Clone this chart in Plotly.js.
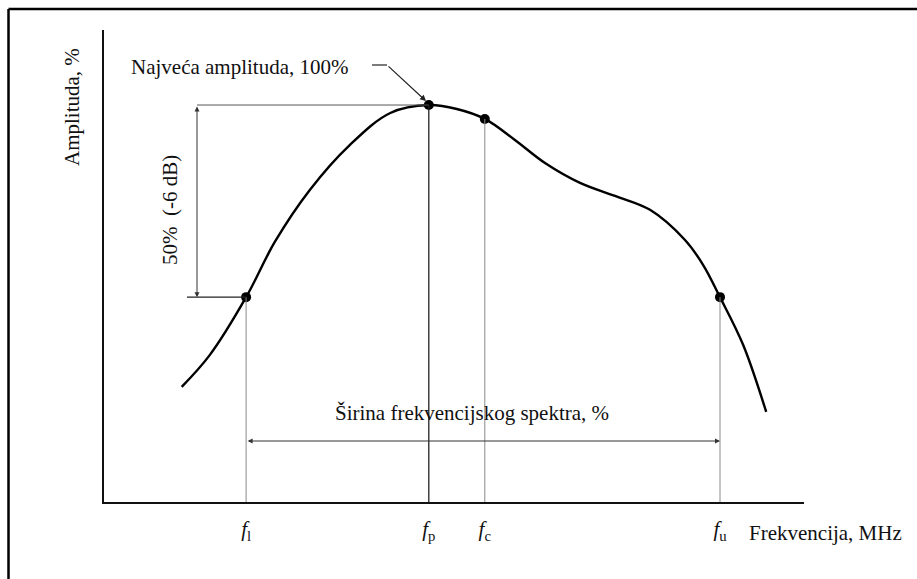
<!DOCTYPE html>
<html>
<head>
<meta charset="utf-8">
<script src="https://cdn.plot.ly/plotly-3.0.1.min.js"></script>
<style>
  html, body { margin: 0; padding: 0; background: #fff; }
  #chart { width: 917px; height: 579px; }
</style>
</head>
<body>
<div id="chart"></div>
<script>
// ---- data (frequency in arbitrary units, amplitude in %) ----
const freq = [11.1, 15.1, 20.3, 24.4, 29.4, 35.1, 40.9, 46.4, 50.4, 54.4, 58.7, 63.0, 68.0, 73.0, 78.0, 83.0, 85.6, 88.0, 91.3, 94.6];
const amp  = [29.0, 37.0, 51.6, 65.5, 78.6, 89.9, 98.0, 100.0, 99.0, 96.5, 91.2, 85.4, 80.4, 77.1, 73.6, 66.0, 59.7, 51.6, 39.6, 22.7];

const pointNames = ['fl', 'fp', 'fc', 'fu'];
const pointFreq  = [20.3, 46.4, 54.4, 88.0];
const pointAmp   = [51.6, 100.0, 96.5, 51.6];
const tickLabels = ['<i>f</i><sub>l</sub>', '<i>f</i><sub>p</sub>', '<i>f</i><sub>c</sub>', '<i>f</i><sub>u</sub>'];

const peakAmp = 100.0;
const halfAmp = 51.6;
const xMax = 100;
const yMax = 118.9;

const textPeak   = 'Najveća amplituda, 100%';
const textBand   = 'Širina frekvencijskog spektra, %';
const textHalf   = '50%  (-6 dB)';
const textYTitle = 'Amplituda, %';
const textXTitle = 'Frekvencija, MHz';

// ---- layout helpers ----
const FONT = 'Liberation Serif, Times New Roman, serif';
const mL = 104, mR = 113, mT = 30, mB = 77;
const W = 917, H = 579;
const pw = W - mL - mR, ph = H - mT - mB;
const px2x = p => (p - mL) / pw * xMax;     // pixel -> data x
const py2y = p => (H - mB - p) / ph * yMax; // pixel -> data y
const px2paper = p => (p - mL) / pw;
const py2paper = p => (H - mB - p) / ph;

const iFl = 0, iFp = 1, iFc = 2, iFu = 3;
const arrowX = px2x(197);
const bandY = py2y(441);

const traces = [
  {
    x: freq, y: amp, type: 'scatter', mode: 'lines',
    line: { color: '#000', width: 2.4, shape: 'spline', smoothing: 1.0 },
    hoverinfo: 'skip'
  },
  {
    x: pointFreq, y: pointAmp, text: pointNames, type: 'scatter', mode: 'markers',
    marker: { color: '#000', size: 10 },
    hoverinfo: 'text'
  }
];

const thin = { color: '#8a8a8a', width: 1 };
const shapes = [
  // frame (top and left edges)
  { type: 'line', xref: 'paper', yref: 'paper', x0: px2paper(8.5), x1: px2paper(W + 5), y0: py2paper(9), y1: py2paper(9), line: { color: '#000', width: 2.5 } },
  { type: 'line', xref: 'paper', yref: 'paper', x0: px2paper(8.5), x1: px2paper(8.5), y0: py2paper(9), y1: py2paper(H + 5), line: { color: '#000', width: 2.5 } },
  // vertical drop lines
  { type: 'line', x0: pointFreq[iFl], x1: pointFreq[iFl], y0: 0, y1: pointAmp[iFl], line: thin },
  { type: 'line', x0: pointFreq[iFp], x1: pointFreq[iFp], y0: 0, y1: pointAmp[iFp], line: { color: '#222', width: 1.3 } },
  { type: 'line', x0: pointFreq[iFc], x1: pointFreq[iFc], y0: 0, y1: pointAmp[iFc], line: thin },
  { type: 'line', x0: pointFreq[iFu], x1: pointFreq[iFu], y0: 0, y1: pointAmp[iFu], line: thin },
  // horizontal reference lines
  { type: 'line', x0: arrowX, x1: pointFreq[iFp], y0: peakAmp, y1: peakAmp, line: { color: '#555', width: 1 } },
  { type: 'line', x0: px2x(187), x1: pointFreq[iFl], y0: halfAmp, y1: halfAmp, line: { color: '#222', width: 1.3 } },
  // leader short horizontal part
  { type: 'line', x0: px2x(372), x1: px2x(387), y0: py2y(65), y1: py2y(65), line: { color: '#222', width: 1.2 } }
];

const tf = (size) => ({ family: FONT, size: size, color: '#111' });
const annotations = [
  // 50% double arrow
  { x: arrowX, y: halfAmp, ax: arrowX, ay: peakAmp, axref: 'x', ayref: 'y', xref: 'x', yref: 'y',
    text: '', showarrow: true, arrowhead: 2, startarrowhead: 2, arrowside: 'end+start', arrowsize: 1, arrowwidth: 1, arrowcolor: '#333' },
  // bandwidth double arrow
  { x: pointFreq[iFu], y: bandY, ax: pointFreq[iFl], ay: bandY, axref: 'x', ayref: 'y', xref: 'x', yref: 'y',
    text: '', showarrow: true, arrowhead: 2, startarrowhead: 2, arrowside: 'end+start', arrowsize: 1, arrowwidth: 1, arrowcolor: '#333' },
  // leader arrow to the peak
  { x: px2x(426), y: py2y(101), ax: px2x(387), ay: py2y(65), axref: 'x', ayref: 'y', xref: 'x', yref: 'y',
    text: '', showarrow: true, arrowhead: 2, arrowsize: 1, arrowwidth: 1.2, arrowcolor: '#222' },
  // texts
  { x: px2x(351), y: py2y(67), xref: 'x', yref: 'y', text: textPeak, showarrow: false, xanchor: 'right', yanchor: 'middle', font: tf(21) },
  { x: px2x(472), y: py2y(413), xref: 'x', yref: 'y', text: textBand, showarrow: false, xanchor: 'center', yanchor: 'middle', font: tf(21) },
  { x: px2x(170), y: py2y(210), xref: 'x', yref: 'y', text: textHalf, showarrow: false, textangle: -90, xanchor: 'center', yanchor: 'middle', font: tf(21) },
  { x: px2paper(72), y: py2paper(107), xref: 'paper', yref: 'paper', text: textYTitle, showarrow: false, textangle: -90, xanchor: 'center', yanchor: 'middle', font: tf(21) },
  { x: px2paper(747), y: py2paper(533), xref: 'paper', yref: 'paper', text: textXTitle, showarrow: false, xanchor: 'left', yanchor: 'middle', font: tf(21) }
];

const layout = {
  width: W, height: H,
  margin: { l: mL, r: mR, t: mT, b: mB, pad: 0 },
  paper_bgcolor: '#fff', plot_bgcolor: '#fff',
  showlegend: false,
  xaxis: {
    range: [0, xMax], showgrid: false, zeroline: false,
    showline: true, linecolor: '#111', linewidth: 2,
    tickmode: 'array', tickvals: pointFreq, ticktext: tickLabels,
    ticks: '', ticklabelstandoff: 7,
    tickfont: { family: FONT, size: 21, color: '#111' },
    fixedrange: true
  },
  yaxis: {
    range: [0, yMax], showgrid: false, zeroline: false,
    showline: true, linecolor: '#111', linewidth: 2,
    showticklabels: false, ticks: '',
    fixedrange: true
  },
  shapes: shapes,
  annotations: annotations
};

Plotly.newPlot('chart', traces, layout, { displayModeBar: false, staticPlot: true });
</script>
</body>
</html>
